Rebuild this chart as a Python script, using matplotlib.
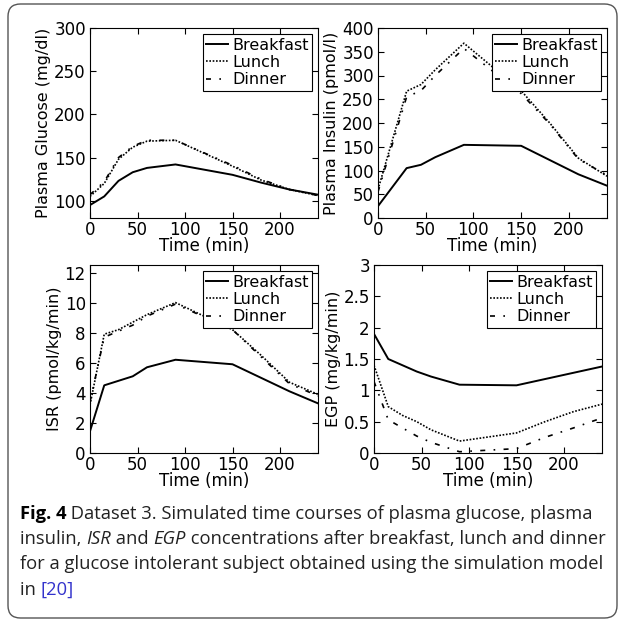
import matplotlib.pyplot as plt
from matplotlib.patches import FancyBboxPatch

# time points (min)
t_glu = [0, 15, 30, 45, 60, 90, 150, 180, 210, 240]
glu_breakfast = [95, 105, 123, 133, 138, 142, 130, 121, 113, 107]
glu_lunch = [105, 120, 148, 162, 169, 170, 140, 124, 113, 106]
glu_dinner = [107, 122, 150, 163, 170, 170, 141, 125, 113, 106]

t_ins = [0, 30, 45, 60, 90, 150, 180, 210, 240]
ins_breakfast = [25, 105, 112, 128, 154, 152, 122, 92, 68]
ins_lunch = [60, 267, 281, 312, 368, 268, 200, 126, 88]
ins_dinner = [55, 255, 268, 300, 357, 262, 198, 124, 90]

t_isr = [0, 15, 30, 45, 60, 90, 150, 180, 210, 240]
isr_breakfast = [1.45, 4.5, 4.8, 5.1, 5.7, 6.2, 5.9, 5.0, 4.1, 3.3]
isr_lunch = [3.2, 7.9, 8.2, 8.7, 9.2, 10.0, 8.2, 6.5, 4.7, 3.9]
isr_dinner = [3.4, 7.7, 8.1, 8.5, 9.1, 9.9, 8.2, 6.4, 4.6, 3.8]

t_egp = [0, 15, 30, 45, 60, 90, 150, 180, 210, 240]
egp_breakfast = [1.9, 1.5, 1.4, 1.3, 1.22, 1.09, 1.08, 1.18, 1.28, 1.38]
egp_lunch = [1.4, 0.74, 0.6, 0.5, 0.37, 0.19, 0.32, 0.5, 0.66, 0.78]
egp_dinner = [1.14, 0.53, 0.4, 0.27, 0.17, 0.02, 0.07, 0.25, 0.4, 0.56]

meals = ["Breakfast", "Lunch", "Dinner"]
styles = ["-", (0, (1, 1)), (0, (3, 5, 1, 5))]
widths = [1.4, 1.2, 1.2]

plt.rcParams['font.family'] = ['DejaVu Sans']
plt.rcParams['font.size'] = 11.5
plt.rcParams['xtick.direction'] = 'in'
plt.rcParams['ytick.direction'] = 'in'
plt.rcParams['xtick.top'] = True
plt.rcParams['ytick.right'] = True
plt.rcParams['xtick.major.size'] = 4
plt.rcParams['ytick.major.size'] = 4

fig = plt.figure(figsize=(6.25, 6.22), dpi=100)
W, H = 625.0, 622.0

# rounded border around the whole figure
border = FancyBboxPatch((8 / W, 4 / H), 609 / W, 614 / H,
                        boxstyle="round,pad=0,rounding_size=0.02",
                        transform=fig.transFigure, facecolor='none',
                        edgecolor='#555555', linewidth=1.0)
fig.patches.append(border)

panels = [
    ((90, 28, 228, 190), t_glu, [glu_breakfast, glu_lunch, glu_dinner],
     (80, 300), [100, 150, 200, 250, 300], "Plasma Glucose (mg/dl)"),
    ((378, 28, 229, 190), t_ins, [ins_breakfast, ins_lunch, ins_dinner],
     (0, 400), [0, 50, 100, 150, 200, 250, 300, 350, 400], "Plasma Insulin (pmol/l)"),
    ((90, 265, 228, 188), t_isr, [isr_breakfast, isr_lunch, isr_dinner],
     (0, 12.5), [0, 2, 4, 6, 8, 10, 12], "ISR (pmol/kg/min)"),
    ((374, 265, 228, 188), t_egp, [egp_breakfast, egp_lunch, egp_dinner],
     (0, 3), [0, 0.5, 1, 1.5, 2, 2.5, 3], "EGP (mg/kg/min)"),
]

for (x, y, w, h), t, series, ylim, yticks, ylabel in panels:
    ax = fig.add_axes([x / W, 1 - (y + h) / H, w / W, h / H])
    for vals, ls, lw, name in zip(series, styles, widths, meals):
        ax.plot(t, vals, color='black', linestyle=ls, linewidth=lw, label=name)
    ax.set_xlim(0, 240)
    ax.set_ylim(*ylim)
    ax.set_xticks([0, 50, 100, 150, 200])
    ax.set_yticks(yticks)
    ax.set_yticklabels([('%g' % v) for v in yticks])
    ax.set_xlabel("Time (min)", labelpad=-1, fontsize=12)
    ax.set_ylabel(ylabel, labelpad=2, fontsize=11.5)
    ax.tick_params(axis='x', labelsize=12, pad=2)
    ax.tick_params(axis='y', labelsize=12, pad=3)
    leg = ax.legend(loc='upper right', fancybox=False, framealpha=1,
                    edgecolor='black', handlelength=1.35, handletextpad=0.25,
                    labelspacing=0.15, borderpad=0.2, borderaxespad=0.4,
                    fontsize=11.5)
    leg.get_frame().set_linewidth(0.8)

# caption, built piece by piece so bold/italic/blue parts can follow each other
cap_font = ['Open Sans', 'DejaVu Sans']
cap_size = 13.2
grey = '#222222'
lines = [
    [("Fig. 4", 'bold', 'normal', 'black'),
     (" Dataset 3. Simulated time courses of plasma glucose, plasma", 'normal', 'normal', grey)],
    [("insulin, ", 'normal', 'normal', grey), ("ISR", 'normal', 'italic', grey),
     (" and ", 'normal', 'normal', grey), ("EGP", 'normal', 'italic', grey),
     (" concentrations after breakfast, lunch and dinner", 'normal', 'normal', grey)],
    [("for a glucose intolerant subject obtained using the simulation model", 'normal', 'normal', grey)],
    [("in ", 'normal', 'normal', grey), ("[20]", 'normal', 'normal', '#3333cc')],
]
line_bottoms = [523, 548, 573, 599]
for parts, yb in zip(lines, line_bottoms):
    last = None
    for txt, wt, st, col in parts:
        if last is None:
            last = fig.text(20 / W, 1 - yb / H, txt, fontsize=cap_size, family=cap_font,
                            weight=wt, style=st, color=col, va='bottom', ha='left')
        else:
            last = fig.add_artist(plt.Annotation(
                txt, xy=(1, 0), xycoords=last, xytext=(0, 0),
                textcoords='offset points', fontsize=cap_size,
                family=cap_font, weight=wt, style=st, color=col,
                va='bottom', ha='left', annotation_clip=False))

fig.savefig("out.png", dpi=100)
